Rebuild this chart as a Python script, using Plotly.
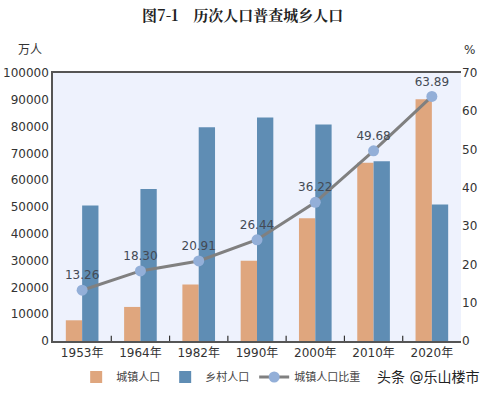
import plotly.graph_objects as go

years = ["1953年", "1964年", "1982年", "1990年", "2000年", "2010年", "2020年"]
urban = [7726, 12710, 21082, 29971, 45844, 66557, 90199]
rural = [50534, 56748, 79736, 83397, 80739, 67113, 50979]
urban_ratio = [13.26, 18.30, 20.91, 26.44, 36.22, 49.68, 63.89]
ratio_labels = ["13.26", "18.30", "20.91", "26.44", "36.22", "49.68", "63.89"]

font_main = "DejaVu Sans, Noto Sans CJK SC"
txt = "#333333"

W, H = 485, 393
l, r, t, b = 53, 24, 73, 52
pw, ph = W - l - r, H - t - b


def px2paper(px, py):
    return (px - l) / pw, (H - b - py) / ph


fig = go.Figure()
fig.add_trace(go.Bar(x=years, y=urban, name="城镇人口", marker_color="#dfa67e",
                     marker_line_width=0))
fig.add_trace(go.Bar(x=years, y=rural, name="乡村人口", marker_color="#5f8db4",
                     marker_line_width=0))
fig.add_trace(go.Scatter(x=years, y=urban_ratio, name="城镇人口比重", yaxis="y2",
                         mode="lines+markers+text", text=ratio_labels,
                         textposition="top center",
                         textfont=dict(size=12, color="#444a55", family=font_main),
                         line=dict(color="#808080", width=3),
                         marker=dict(color="#93afd8", size=11)))


def ann(text, px, py, xanchor="center", size=12, color=txt, family=None):
    x, y = px2paper(px, py)
    f = dict(size=size, color=color)
    if family:
        f["family"] = family
    return dict(text=text, x=x, y=y, xref="paper", yref="paper", showarrow=False,
                xanchor=xanchor, yanchor="middle", font=f)


fig.update_layout(
    width=W, height=H,
    margin=dict(l=l, r=r, t=t, b=b, autoexpand=False),
    paper_bgcolor="white",
    plot_bgcolor="#eef2fd",
    barmode="group", bargap=0.44, bargroupgap=0,
    font=dict(family=font_main, size=12, color=txt),
    showlegend=True,
    legend=dict(orientation="h", x=0.455, xanchor="center", xref="container",
                y=1 - 377 / H, yanchor="middle", yref="container",
                font=dict(size=11, color="#444444"), itemwidth=30,
                bgcolor="rgba(0,0,0,0)", traceorder="normal"),
    xaxis=dict(showgrid=False, ticks="", showline=True, linecolor="#555555",
               linewidth=1.5, mirror=True, tickfont=dict(size=12, color=txt),
               automargin=False),
    yaxis=dict(range=[0, 100000], dtick=10000, showgrid=False, zeroline=False,
               showline=True, linecolor="#555555", linewidth=1.5, tickformat="d",
               tickfont=dict(size=12, color=txt), ticks="", automargin=False),
    yaxis2=dict(range=[0, 70], dtick=10, overlaying="y", side="right",
                showgrid=False, zeroline=False, showline=False, automargin=False,
                tickfont=dict(size=12, color=txt), ticks=""),
    annotations=[
        ann("<b>图7-1　历次人口普查城乡人口</b>", W / 2, 15, size=15, color="#222222",
            family="Noto Serif CJK SC, Noto Sans CJK SC"),
        ann("万人", 30, 50),
        ann("%", 470, 50),
        ann("头条 @乐山楼市", 481, 377, xanchor="right", size=14, color="#222222"),
    ],
)

# tick marks between categories
for i in range(1, len(years)):
    fig.add_shape(type="line", xref="x", yref="paper", x0=i - 0.5, x1=i - 0.5,
                  y0=0, y1=0.02, line=dict(color="#333333", width=1.2))

fig.write_html("out.html", config={"displayModeBar": False},
               post_script="document.body.style.margin='0';document.body.style.overflow='hidden';")
